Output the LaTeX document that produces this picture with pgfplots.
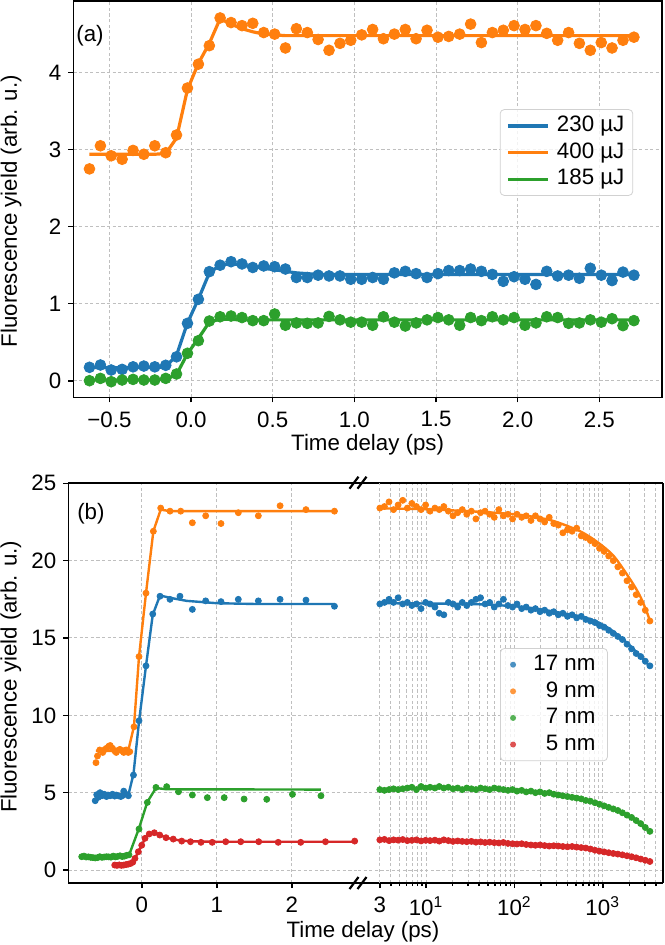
\documentclass[border=0pt]{standalone}
\usepackage{pgfplots}
\pgfplotsset{compat=1.18}
\usepackage{pgfplotstable}
\usepackage{fontspec}
\setmainfont{Liberation Sans}
\definecolor{cB}{HTML}{1F77B4}
\definecolor{cO}{HTML}{FF7F0E}
\definecolor{cG}{HTML}{2CA02C}
\definecolor{cR}{HTML}{D62728}
\newcommand\fs{\fontsize{11.15}{13.4}\selectfont}

\pgfplotstableread{
x or orf bl blf gr grf
-0.622 2.75 2.94 0.174 0.17 0.00 0.01
-0.555 3.05 2.94 0.204 0.17 0.03 0.01
-0.489 2.92 2.94 0.139 0.17 -0.013 0.01
-0.422 2.875 2.94 0.147 0.17 0.009 0.01
-0.355 2.99 2.94 0.18 0.17 0.017 0.01
-0.289 2.94 2.94 0.19 0.17 0.009 0.01
-0.222 3.05 2.94 0.18 0.17 0.009 0.01
-0.155 2.96 2.95 0.20 0.18 0.03 0.02
-0.089 3.19 3.15 0.31 0.33 0.087 0.08
-0.022 3.80 3.78 0.745 0.75 0.356 0.35
0.045 4.11 4.12 1.057 1.06 0.52 0.55
0.112 4.35 4.38 1.416 1.40 0.775 0.76
0.178 4.71 4.70 1.50 1.50 0.83 0.80
0.245 4.65 4.63 1.545 1.52 0.84 0.795
0.312 4.61 4.57 1.516 1.50 0.82 0.79
0.378 4.64 4.53 1.47 1.48 0.78 0.79
0.445 4.52 4.50 1.49 1.46 0.78 0.79
0.512 4.50 4.49 1.48 1.44 0.866 0.79
0.578 4.32 4.48 1.45 1.42 0.72 0.79
0.645 4.57 4.48 1.34 1.40 0.75 0.79
0.712 4.52 4.48 1.34 1.39 0.745 0.79
0.778 4.43 4.48 1.37 1.38 0.75 0.79
0.845 4.29 4.48 1.36 1.38 0.835 0.79
0.912 4.38 4.48 1.36 1.38 0.79 0.79
0.978 4.42 4.48 1.317 1.38 0.76 0.79
1.045 4.49 4.48 1.317 1.38 0.76 0.79
1.112 4.56 4.48 1.34 1.38 0.72 0.79
1.178 4.44 4.48 1.317 1.38 0.83 0.79
1.245 4.50 4.48 1.40 1.38 0.76 0.79
1.312 4.56 4.48 1.42 1.38 0.71 0.79
1.378 4.44 4.48 1.39 1.38 0.75 0.79
1.445 4.55 4.48 1.34 1.38 0.79 0.79
1.512 4.46 4.48 1.39 1.38 0.82 0.79
1.578 4.47 4.48 1.43 1.38 0.79 0.79
1.645 4.50 4.48 1.43 1.38 0.72 0.79
1.712 4.63 4.48 1.45 1.38 0.82 0.79
1.778 4.39 4.48 1.42 1.38 0.78 0.79
1.845 4.52 4.48 1.38 1.38 0.83 0.79
1.912 4.55 4.48 1.29 1.38 0.79 0.79
1.978 4.61 4.48 1.35 1.38 0.82 0.79
2.045 4.56 4.48 1.317 1.38 0.72 0.79
2.112 4.61 4.48 1.25 1.38 0.75 0.79
2.178 4.51 4.48 1.42 1.38 0.83 0.79
2.245 4.42 4.48 1.36 1.38 0.82 0.79
2.312 4.52 4.48 1.37 1.38 0.745 0.79
2.378 4.38 4.48 1.33 1.38 0.75 0.79
2.445 4.29 4.48 1.46 1.38 0.79 0.79
2.512 4.39 4.48 1.37 1.38 0.76 0.79
2.578 4.32 4.48 1.30 1.38 0.805 0.79
2.645 4.42 4.48 1.41 1.38 0.715 0.79
2.712 4.46 4.48 1.37 1.38 0.78 0.79
}\tabA

\pgfplotstableread{
x or bl gr rd
3.0 23.4 17.2 5.2 1.95
3.38 23.5 17.3 5.15 1.98
3.81 23.8 17.5 5.2 1.9
4.29 23.3 17.3 5.25 1.95
4.83 23.6 17.6 5.2 1.93
5.45 23.9 17.2 5.25 1.97
6.14 23.4 17.3 5.3 1.9
6.91 23.7 17.1 5.35 1.92
7.79 23.5 17.2 5.2 1.95
8.78 23.3 16.9 5.4 1.88
9.89 23.6 17.3 5.3 1.92
11.1 23.2 17.2 5.35 1.9
12.6 23.4 17.0 5.3 1.93
14.1 23.3 16.6 5.4 1.87
15.9 23.5 16.5 5.3 1.95
17.9 23.2 17.3 5.35 1.9
20.2 22.9 17.2 5.25 1.85
22.8 23.1 17.0 5.3 1.88
25.7 23.3 17.3 5.2 1.85
28.9 23.0 17.1 5.3 1.83
32.6 23.2 17.3 5.25 1.85
36.7 22.7 17.5 5.2 1.8
41.4 23.1 17.6 5.3 1.82
46.6 23.2 17.2 5.25 1.78
52.5 23.0 17.3 5.2 1.8
59.2 22.8 17.0 5.3 1.77
66.7 23.3 17.2 5.25 1.75
75.1 22.9 17.5 5.2 1.78
84.6 23.0 17.1 5.15 1.72
95.4 22.7 17.0 5.2 1.7
107 23.0 17.2 5.1 1.68
121 22.8 16.9 5.15 1.7
136 22.9 17.0 5.05 1.65
154 22.6 16.8 5.1 1.62
173 22.9 16.9 5.0 1.6
195 22.7 16.7 5.05 1.62
220 22.5 16.8 4.95 1.58
248 22.8 16.6 5.0 1.55
279 22.4 16.7 4.9 1.57
314 22.3 16.5 4.85 1.55
354 21.8 16.6 4.8 1.52
399 22.0 16.4 4.75 1.5
450 21.9 16.5 4.7 1.52
507 22.1 16.3 4.65 1.48
571 21.6 16.4 4.6 1.45
643 21.5 16.2 4.5 1.42
725 21.3 16.1 4.45 1.36
817 21.1 16.0 4.35 1.28
920 20.8 15.8 4.25 1.22
1037 20.6 15.7 4.15 1.17
1168 20.3 15.5 4.05 1.12
1316 20.0 15.3 3.95 1.07
1483 19.6 15.1 3.85 1.03
1671 19.2 14.9 3.7 0.98
1883 18.7 14.6 3.55 0.92
2121 18.3 14.3 3.4 0.86
2390 17.8 14.0 3.2 0.79
2693 17.3 13.8 3.0 0.71
3034 16.8 13.5 2.75 0.63
3419 16.1 13.2 2.5 0.55
}\tabLog

\pgfplotsset{
  every axis/.append style={font=\fs},
  tick label style={font=\fs},
  label style={font=\fs},
  legend style={font=\fs},
  /pgf/number format/assume math mode=true,
  myax/.style={
    scale only axis,
    tick align=outside,
    major tick length=2.5pt,
    minor tick length=1.5pt,
    grid style={gray!50, dash pattern=on 1.6pt off 1.2pt, line width=0.5pt},
    minor grid style={gray!50, dash pattern=on 1.6pt off 1.2pt, line width=0.5pt},
    axis line style={line width=0.8pt, black},
    every tick/.style={black, line width=0.8pt},
    xticklabel style={yshift=-1pt},
  },
}

\begin{document}
\begin{tikzpicture}
\useasboundingbox (0,0) rectangle (332pt,-472.5pt);

% ---------------- panel (a)
\begin{axis}[myax,
  at={(36.65pt,-0.5pt)}, anchor=north west,
  width=294.35pt, height=198.25pt,
  xmin=-0.721, xmax=2.884, ymin=-0.218, ymax=4.93,
  xtick={-0.5,0,0.5,1,1.5,2,2.5},
  xticklabels={−0.5,0.0,0.5,1.0,1.5,2.0,2.5},
  ytick={0,1,2,3,4}, yticklabels={0,1,2,3,4},
  tick pos=left,
  grid=major,
  xlabel={Time delay (ps)},
  ylabel={Fluorescence yield (arb. u.)},
  xlabel style={at={(axis description cs:0.5,-0.118)}, anchor=center, inner sep=0pt},
  ylabel style={at={(axis description cs:-0.1058,0.47)}, anchor=center},
  legend cell align=left,
  legend image code/.code={\draw[#1] (0pt,0pt) -- (20pt,0pt); \path[draw=none,fill=none] (0pt,0pt) -- (23.4pt,0pt);},
  legend style={at={(0.951,0.7271)}, anchor=north east,
    draw=black!18, rounded corners=2pt, fill=white, fill opacity=0.8, text opacity=1,
    inner xsep=3pt, inner ysep=1.5pt, row sep=0pt,
    nodes={inner sep=1.2pt, text height=8.3pt, text depth=2.6pt},
    /tikz/every even column/.append style={column sep=0pt}},
]
\addplot[cB, line width=1.6pt, forget plot] table[x=x,y=blf]{\tabA};
\addplot[only marks, mark=*, mark size=2.7pt, cB, forget plot] table[x=x,y=bl]{\tabA};
\addplot[cO, line width=1.6pt, forget plot] table[x=x,y=orf]{\tabA};
\addplot[only marks, mark=*, mark size=2.7pt, cO, forget plot] table[x=x,y=or]{\tabA};
\addplot[cG, line width=1.6pt, forget plot] table[x=x,y=grf]{\tabA};
\addplot[only marks, mark=*, mark size=2.7pt, cG, forget plot] table[x=x,y=gr]{\tabA};
\addlegendimage{cB, line width=1.6pt}\addlegendentry{230 µJ}
\addlegendimage{cO, line width=1.6pt}\addlegendentry{400 µJ}
\addlegendimage{cG, line width=1.6pt}\addlegendentry{185 µJ}
\node[anchor=center] at (axis description cs:0.0284,0.9125) {(a)};
\end{axis}

% ---------------- panel (b), linear part
\begin{axis}[myax,
  at={(34.15pt,-241.35pt)}, anchor=north west,
  width=144.85pt, height=200.15pt,
  xmin=-0.979, xmax=2.884, ymin=-0.84, ymax=25.04,
  axis x line*=box, axis y line*=left,
  xtick pos=bottom, ytick pos=left,
  xtick={0,1,2}, xticklabels={0,1,2},
  ytick={0,5,10,15,20,25}, yticklabels={0,5,10,15,20,25},
  grid=major,
  clip mode=individual,
  xlabel={Time delay (ps)},
  ylabel={Fluorescence yield (arb. u.)},
  xlabel style={at={(axis description cs:1.017,-0.122)}, anchor=center, inner sep=0pt},
  ylabel style={at={(axis description cs:-0.198,0.515)}, anchor=center},
]
% orange 9 nm
\addplot[cO, line width=1.2pt] coordinates {(-0.61,7.7)(-0.18,7.7)(-0.103,9.3)(-0.036,13.8)(0.057,17.9)(0.155,21.9)(0.253,23.3)(0.377,23.2)(2.57,23.2)};
\addplot[only marks, mark=*, mark size=1.5pt, cO] coordinates {(-0.61,6.94)(-0.59,7.37)(-0.56,7.76)(-0.52,7.6)(-0.49,7.8)(-0.47,7.87)(-0.44,8.0)(-0.42,8.05)(-0.39,7.87)(-0.36,7.7)(-0.34,7.6)(-0.31,7.75)(-0.29,7.8)(-0.26,7.7)(-0.24,7.6)(-0.22,7.75)(-0.2,7.76)(-0.18,7.6)(-0.16,7.65)(-0.103,9.26)(-0.036,13.8)(0.057,17.9)(0.155,21.9)(0.253,23.4)(0.377,23.2)(0.52,23.2)(0.675,22.45)(0.853,22.9)(1.057,22.4)(1.288,23.1)(1.555,22.9)(1.845,23.55)(2.19,23.3)(2.57,23.2)};
% blue 17 nm
\addplot[cB, line width=1.2pt] coordinates {(-0.62,4.85)(-0.178,4.85)(-0.11,6.2)(-0.036,9.6)(0.057,13.2)(0.147,16.5)(0.244,17.75)(0.377,17.6)(0.6,17.4)(1.0,17.25)(1.5,17.2)(2.57,17.2)};
\addplot[only marks, mark=*, mark size=1.5pt, cB] coordinates {(-0.62,4.48)(-0.60,4.87)(-0.58,4.7)(-0.556,5.0)(-0.53,4.8)(-0.5,4.9)(-0.47,4.75)(-0.45,4.85)(-0.42,4.8)(-0.39,4.9)(-0.36,4.78)(-0.34,4.85)(-0.31,4.8)(-0.28,4.75)(-0.26,4.8)(-0.24,5.1)(-0.21,4.9)(-0.178,4.8)(-0.11,6.14)(-0.036,9.65)(0.057,13.2)(0.147,16.55)(0.244,17.7)(0.377,17.5)(0.51,17.7)(0.675,16.85)(0.853,17.4)(1.057,17.35)(1.288,17.5)(1.555,17.4)(1.845,17.5)(2.19,17.45)(2.57,17.05)};
% green 7 nm
\addplot[cG, line width=1.2pt] coordinates {(-0.8,0.85)(-0.17,0.95)(-0.036,2.7)(0.075,4.4)(0.19,5.3)(0.333,5.22)(2.39,5.2)};
\addplot[only marks, mark=*, mark size=1.5pt, cG] coordinates {(-0.80,0.86)(-0.77,0.9)(-0.74,0.84)(-0.71,0.85)(-0.68,0.82)(-0.65,0.8)(-0.62,0.78)(-0.59,0.8)(-0.56,0.86)(-0.53,0.82)(-0.5,0.84)(-0.47,0.86)(-0.44,0.85)(-0.41,0.83)(-0.38,0.9)(-0.35,0.85)(-0.32,0.88)(-0.29,0.92)(-0.26,0.87)(-0.23,0.9)(-0.2,0.95)(-0.17,0.98)(-0.036,2.65)(0.075,4.37)(0.19,5.34)(0.333,5.39)(0.49,5.06)(0.675,4.85)(0.875,4.68)(1.1,4.68)(1.365,4.59)(1.667,4.57)(2.01,4.89)(2.39,4.8)};
% red 5 nm
\addplot[cR, line width=1.2pt] coordinates {(-0.36,0.33)(-0.15,0.38)(-0.12,0.48)(-0.09,0.75)(-0.045,1.18)(0.0,1.6)(0.044,2.02)(0.1,2.32)(0.168,2.4)(0.24,2.27)(0.324,2.1)(0.42,1.98)(0.533,1.9)(0.65,1.86)(0.8,1.84)(1.0,1.83)(2.84,1.83)};
\addplot[only marks, mark=*, mark size=1.5pt, cR] coordinates {(-0.36,0.32)(-0.33,0.3)(-0.30,0.33)(-0.27,0.3)(-0.24,0.32)(-0.21,0.35)(-0.18,0.38)(-0.15,0.42)(-0.12,0.5)(-0.09,0.75)(-0.045,1.18)(0.0,1.6)(0.044,2.05)(0.1,2.33)(0.168,2.41)(0.24,2.26)(0.324,2.09)(0.42,2.0)(0.533,1.87)(0.65,1.83)(0.79,1.79)(0.94,1.79)(1.12,1.83)(1.32,1.83)(1.56,1.83)(1.82,1.79)(2.12,1.79)(2.45,1.83)(2.84,1.87)};
\node[anchor=center] at (axis description cs:0.078,0.922) {(b)};
% axis break marks
\draw[line width=1.1pt] ([shift={(-4.25pt,-3pt)}]rel axis cs:1,1) -- ++(4.5pt,6pt);
\draw[line width=1.1pt] ([shift={(-0.25pt,-3pt)}]rel axis cs:1,1) -- ++(4.5pt,6pt);
\draw[line width=1.1pt] ([shift={(-4.25pt,-3pt)}]rel axis cs:1,0) -- ++(4.5pt,6pt);
\draw[line width=1.1pt] ([shift={(-0.25pt,-3pt)}]rel axis cs:1,0) -- ++(4.5pt,6pt);
\end{axis}

% ---------------- panel (b), logarithmic part
\begin{axis}[myax,
  at={(179pt,-241.35pt)}, anchor=north west,
  width=152.35pt, height=200.15pt,
  xmode=log, xmin=1.698, xmax=4775, ymin=-0.84, ymax=25.04,
  axis x line*=box, axis y line*=right,
  xtick pos=bottom,
  ytick={0,5,10,15,20,25}, yticklabels={}, ytick style={draw=none},
  xtick={10,100,1000},
  xticklabels={10\textsuperscript{1},10\textsuperscript{2},10\textsuperscript{3}},
  extra x ticks={3}, extra x tick labels={3},
  extra x tick style={grid=major},
  minor xtick={4,5,6,7,8,9,20,30,40,50,60,70,80,90,200,300,400,500,600,700,800,900,2000,3000,4000},
  xmajorgrids, xminorgrids, ymajorgrids,
  legend cell align=left,
  legend style={at={(0.820,0.587)}, anchor=north east,
    draw=black!18, rounded corners=2pt, fill=white, fill opacity=0.8, text opacity=1,
    inner xsep=2.3pt, inner ysep=1.5pt, row sep=0pt,
    nodes={inner sep=1.2pt, text height=8.3pt, text depth=2.6pt}},
  legend image code/.code={\fill[#1, draw=none] (4pt,0pt) circle (1.5pt); \path[draw=none,fill=none] (0pt,0pt) -- (13pt,0pt);},
]
\addplot[cO, line width=1.2pt, smooth, forget plot] coordinates {(2.9,23.38)(5,23.36)(10,23.32)(30,23.2)(100,23.0)(200,22.75)(300,22.5)(555,21.9)(870,21.2)(1330,20.3)(2040,18.8)(2600,17.8)(3100,16.8)(3430,16.1)};
\addplot[only marks, mark=*, mark size=1.5pt, cO, forget plot] table[x=x,y=or]{\tabLog};
\addplot[cB, line width=1.2pt, smooth, forget plot] coordinates {(2.9,17.25)(30,17.2)(100,17.05)(200,16.85)(400,16.55)(600,16.35)(900,16.0)(1300,15.45)(2000,14.55)(2800,13.7)(3430,13.15)};
\addplot[only marks, mark=*, mark size=1.5pt, cB, forget plot] table[x=x,y=bl]{\tabLog};
\addplot[cG, line width=1.2pt, smooth, forget plot] coordinates {(2.9,5.22)(20,5.3)(60,5.25)(150,5.08)(350,4.82)(550,4.6)(870,4.3)(1330,3.95)(2040,3.42)(2800,2.85)(3430,2.48)};
\addplot[only marks, mark=*, mark size=1.5pt, cG, forget plot] table[x=x,y=gr]{\tabLog};
\addplot[cR, line width=1.2pt, smooth, forget plot] coordinates {(2.9,1.95)(20,1.88)(60,1.77)(150,1.63)(350,1.52)(600,1.44)(870,1.3)(1330,1.08)(2040,0.88)(2800,0.7)(3430,0.55)};
\addplot[only marks, mark=*, mark size=1.5pt, cR, forget plot] table[x=x,y=rd]{\tabLog};
\addlegendimage{cB}\addlegendentry{17 nm\hspace*{2.5pt}}
\addlegendimage{cO}\addlegendentry{\phantom{1}9 nm\hspace*{2.5pt}}
\addlegendimage{cG}\addlegendentry{\phantom{1}7 nm\hspace*{2.5pt}}
\addlegendimage{cR}\addlegendentry{\phantom{1}5 nm\hspace*{2.5pt}}
\end{axis}
\end{tikzpicture}
\end{document}
